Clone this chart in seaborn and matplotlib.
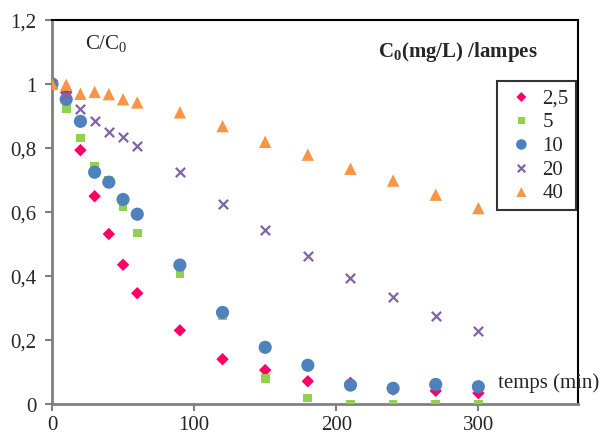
import pandas as pd
import matplotlib.pyplot as plt
import seaborn as sns

# C/C0 vs irradiation time for several initial concentrations
temps = [0, 10, 20, 30, 40, 50, 60, 90, 120, 150, 180, 210, 240, 270, 300]
c_2_5 = [1.0, 0.973, 0.793, 0.649, 0.531, 0.435, 0.346, 0.23, 0.14, 0.106, 0.071, 0.066, 0.045, 0.041, 0.034]
c_5 = [1.0, 0.923, 0.831, 0.742, 0.70, 0.618, 0.534, 0.408, 0.275, 0.08, 0.019, 0.0, 0.0, 0.0, 0.0]
c_10 = [1.0, 0.952, 0.883, 0.724, 0.693, 0.639, 0.593, 0.434, 0.286, 0.177, 0.121, 0.059, 0.049, 0.061, 0.054]
c_20 = [1.0, 0.966, 0.923, 0.885, 0.85, 0.833, 0.805, 0.724, 0.626, 0.543, 0.462, 0.395, 0.335, 0.275, 0.227]
c_40 = [1.0, 0.997, 0.969, 0.975, 0.968, 0.952, 0.942, 0.911, 0.868, 0.819, 0.779, 0.735, 0.698, 0.654, 0.612]

labels = ["2,5", "5", "10", "20", "40"]
series = [c_2_5, c_5, c_10, c_20, c_40]

rows = []
for lab, vals in zip(labels, series):
    for t, v in zip(temps, vals):
        rows.append({"temps": t, "ratio": v, "C0": lab})
df = pd.DataFrame(rows)

sns.set_style("white")
plt.rcParams['font.family'] = ['Liberation Serif', 'DejaVu Serif']
plt.rcParams['mathtext.fontset'] = 'custom'
plt.rcParams['mathtext.rm'] = 'Liberation Serif'
plt.rcParams['mathtext.bf'] = 'Liberation Serif:bold'

colors = {"2,5": "#FF0066", "5": "#92D050", "10": "#4F81BD", "20": "#8064A2", "40": "#F79646"}
markers = {"2,5": "D", "5": "s", "10": "o", "20": "X", "40": "^"}
sizes = {"2,5": 40, "5": 40, "10": 90, "20": 50, "40": 80}

fig = plt.figure(figsize=(6.01, 4.35), dpi=100)
ax = fig.add_axes([0.0865, 0.069, 0.875, 0.883])

for lab in labels:
    sub = df[df["C0"] == lab]
    if lab == "20":
        sns.scatterplot(x="temps", y="ratio", data=sub, ax=ax, marker="x", color=colors[lab],
                        s=45, linewidth=1.6, label=lab, zorder=3)
    else:
        sns.scatterplot(x="temps", y="ratio", data=sub, ax=ax, marker=markers[lab], color=colors[lab],
                        s=sizes[lab], edgecolor="none", label=lab, zorder=3)

ax.set_xlim(0, 370)
ax.set_ylim(0, 1.2)
ax.set_xticks([0, 100, 200, 300])
ax.set_yticks([0, 0.2, 0.4, 0.6, 0.8, 1.0, 1.2])
ax.set_yticklabels(["0", "0,2", "0,4", "0,6", "0,8", "1", "1,2"])
ax.set_xlabel("")
ax.set_ylabel("")

for side in ["left", "bottom"]:
    ax.spines[side].set_color("#808080")
    ax.spines[side].set_linewidth(2)
for side in ["top", "right"]:
    ax.spines[side].set_color("black")
    ax.spines[side].set_linewidth(1.5)

ax.tick_params(axis="both", which="both", direction="out", length=5, width=1.5,
               color="#808080", labelsize=15)
ax.tick_params(axis="x", top=False, bottom=True, pad=3)
ax.tick_params(axis="y", left=True, right=False, pad=6)

leg = ax.legend(loc="upper left", bbox_to_anchor=(0.847, 0.842), fontsize=15, frameon=True,
                fancybox=False, edgecolor="black", handletextpad=0.2, borderpad=0.35,
                labelspacing=0.2, handlelength=1.6, markerscale=0.8, borderaxespad=0)
leg.get_frame().set_linewidth(1.5)

ax.text(0.063, 0.94, "C/C$_0$", transform=ax.transAxes, fontsize=15, va="center")
ax.text(0.62, 0.92, "C$_\\mathbf{0}$(mg/L) /lampes", transform=ax.transAxes, fontsize=15,
        fontweight="bold", va="center")
ax.text(0.848, 0.058, "temps (min)", transform=ax.transAxes, fontsize=15, va="center",
        clip_on=False)

plt.savefig("out.png", dpi=100)
